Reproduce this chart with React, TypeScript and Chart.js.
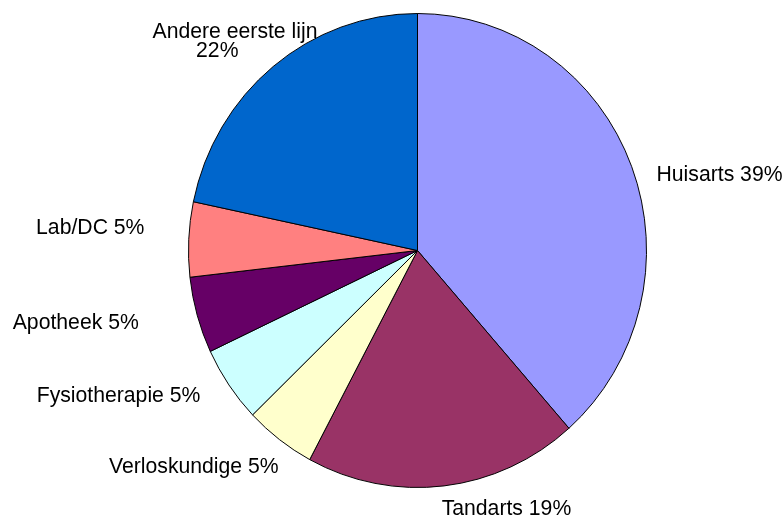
import React, { useEffect, useRef } from "react";
import { Chart, registerables } from "chart.js";

Chart.register(...registerables);

const categories = [
  "Huisarts",
  "Tandarts",
  "Verloskundige",
  "Fysiotherapie",
  "Apotheek",
  "Lab/DC",
  "Andere eerste lijn",
];
const shares = [38.5, 19.3, 5.0, 5.2, 5.2, 5.1, 21.7];
const sliceColors = [
  "#9999FF",
  "#993366",
  "#FFFFCC",
  "#CCFFFF",
  "#660066",
  "#FF8080",
  "#0066CC",
];

const total = shares.reduce((a, b) => a + b, 0);
const pct = (i: number) => `${Math.round((shares[i] / total) * 100)}%`;

// label layout relative to each slice's outer mid-point (dx, dy to text baseline)
type LabelLine = { text: string; dx: number; dy: number; align: CanvasTextAlign };
const labelLayout = (i: number): LabelLine[] => {
  const t = `${categories[i]} ${pct(i)}`;
  switch (i) {
    case 0:
      return [{ text: t, dx: 24.8, dy: 14.5, align: "left" }];
    case 1:
      return [{ text: t, dx: -2.4, dy: 29.3, align: "left" }];
    case 2:
      return [{ text: t, dx: -0.8, dy: 33.3, align: "right" }];
    case 3:
      return [{ text: t, dx: -28.5, dy: 17.1, align: "right" }];
    case 4:
      return [{ text: t, dx: -58.4, dy: 14.0, align: "right" }];
    case 5:
      return [{ text: t, dx: -44.3, dy: -5.3, align: "right" }];
    default:
      return [
        { text: categories[i], dx: -38.2, dy: -28.8, align: "center" },
        { text: pct(i), dx: -55.9, dy: -9.4, align: "center" },
      ];
  }
};

const X_SCALE = 229.5 / 237.5;

const ellipsePlugin = {
  id: "ellipse",
  beforeDatasetsDraw(chart: any) {
    const arc = chart.getDatasetMeta(0).data[0];
    const ctx = chart.ctx;
    ctx.save();
    ctx.translate(arc.x, arc.y);
    ctx.scale(X_SCALE, 1);
    ctx.translate(-arc.x, -arc.y);
  },
  afterDatasetsDraw(chart: any) {
    chart.ctx.restore();
  },
};

const labelPlugin = {
  id: "sliceLabels",
  afterDraw(chart: any) {
    const ctx = chart.ctx;
    const meta = chart.getDatasetMeta(0);
    ctx.save();
    ctx.fillStyle = "#000";
    ctx.font = "21.2px 'Liberation Sans', Arial, sans-serif";
    ctx.textBaseline = "alphabetic";
    meta.data.forEach((arc: any, i: number) => {
      const mid = (arc.startAngle + arc.endAngle) / 2;
      const ax = arc.x + arc.outerRadius * X_SCALE * Math.cos(mid);
      const ay = arc.y + arc.outerRadius * Math.sin(mid);
      labelLayout(i).forEach((l) => {
        ctx.textAlign = l.align;
        ctx.fillText(l.text, ax + l.dx, ay + l.dy);
      });
    });
    ctx.restore();
  },
};

export default function App() {
  const ref = useRef<HTMLCanvasElement>(null);
  useEffect(() => {
    if (!ref.current) return;
    const chart = new Chart(ref.current, {
      type: "pie",
      data: {
        labels: categories,
        datasets: [
          {
            data: shares,
            backgroundColor: sliceColors,
            borderColor: "#000000",
            borderWidth: 1,
            hoverOffset: 0,
          },
        ],
      },
      options: {
        responsive: false,
        animation: false,
        events: [],
        layout: { padding: { left: 180, right: 128, top: 13, bottom: 31 } },
        plugins: {
          legend: { display: false },
          tooltip: { enabled: false },
        },
      },
      plugins: [ellipsePlugin, labelPlugin],
    });
    return () => chart.destroy();
  }, []);
  return (
    <div style={{ position: "fixed", left: 0, top: 0, width: 783, height: 519, background: "#fff" }}>
      <canvas ref={ref} width={783} height={519} style={{ display: "block" }} />
    </div>
  );
}
